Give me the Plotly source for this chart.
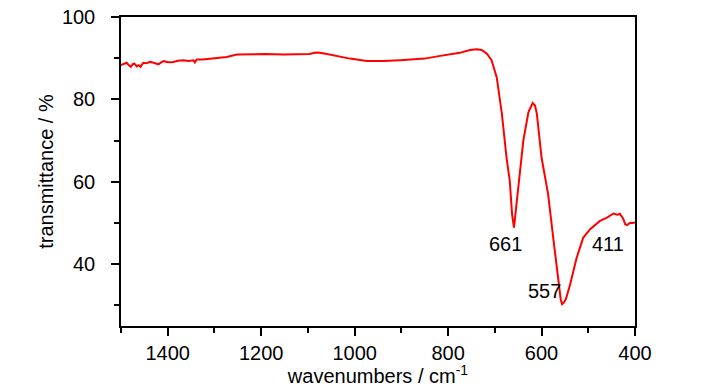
import plotly.graph_objects as go

wavenumber = [1500, 1492, 1488, 1483, 1479, 1475, 1472, 1469, 1466, 1462, 1458, 1455, 1452, 1445, 1438, 1430,
              1420, 1414, 1409, 1400, 1388, 1378, 1367, 1355, 1345, 1342, 1338, 1325, 1310, 1290, 1274, 1252,
              1224, 1190, 1153, 1120, 1096, 1086, 1078, 1062, 1046, 1010, 974, 939, 903, 880, 850, 820, 800,
              775, 753, 739, 728, 717, 707, 696, 685, 675, 668, 663, 659, 655, 650, 645, 639, 628, 622, 619,
              614, 610, 600, 593, 586, 575, 564, 559, 556, 553, 548, 539, 525, 511, 496, 485, 475, 460, 452,
              446, 438, 432, 425, 421, 417, 411, 405, 400]
transmittance = [88.3, 88.7, 88.9, 88.3, 87.9, 88.5, 88.7, 88.4, 88.0, 88.3, 87.9, 88.5, 88.9, 88.8, 89.1, 88.9,
                 88.5, 89.0, 89.3, 89.0, 89.1, 89.4, 89.5, 89.3, 89.5, 89.0, 89.7, 89.7, 89.9, 90.1, 90.3, 90.9,
                 91.0, 91.0, 90.9, 90.9, 91.0, 91.3, 91.4, 91.1, 90.7, 89.9, 89.3, 89.3, 89.5, 89.6, 89.9, 90.5, 90.8,
                 91.3, 92.0, 92.2, 92.0, 91.1, 89.5, 85.4, 76.6, 65.9, 60.2, 52.0, 48.9, 53.0, 58.6, 64.0, 70.0,
                 76.9, 78.6, 79.1, 78.5, 76.5, 65.9, 61.0, 57.0, 46.4, 35.0, 31.5, 30.3, 30.6, 31.5, 35.0, 41.5,
                 46.4, 48.5, 49.5, 50.5, 51.3, 51.8, 52.3, 52.0, 52.2, 51.0, 49.7, 49.5, 50.0, 50.0, 50.1]

peak_labels = ["661", "557", "411"]
peak_label_x = [678, 593, 457]
peak_label_y = [44.9, 33.5, 44.9]

FONT = "Liberation Sans, Arial"

fig = go.Figure()
fig.add_trace(go.Scatter(x=wavenumber, y=transmittance, mode="lines",
                         line=dict(color="#ff0000", width=2), showlegend=False))

for t, x, y in zip(peak_labels, peak_label_x, peak_label_y):
    fig.add_annotation(x=x, y=y, text=t, showarrow=False,
                       font=dict(family=FONT, size=20, color="black"))

axis_common = dict(showline=True, linecolor="black", linewidth=1.5, mirror=True,
                   showgrid=False, zeroline=False, ticks="outside", ticklen=8, tickwidth=1.5,
                   tickcolor="black", automargin=False, ticklabeloverflow="allow",
                   tickfont=dict(family=FONT, size=20, color="black"))

fig.update_xaxes(range=[1500, 400], tickvals=[1400, 1200, 1000, 800, 600, 400],
                 minor=dict(tickvals=[1500, 1300, 1100, 900, 700, 500], ticklen=5, tickwidth=1.5,
                            tickcolor="black", ticks="outside"),
                 title=dict(text="wavenumbers / cm<sup>-1</sup>", standoff=3,
                            font=dict(family=FONT, size=20, color="black")),
                 **axis_common)
fig.update_yaxes(range=[25, 100], tickvals=[40, 60, 80, 100],
                 minor=dict(tickvals=[30, 50, 70, 90], ticklen=5, tickwidth=1.5,
                            tickcolor="black", ticks="outside"),
                 ticklabelstandoff=12,
                 title=dict(text="transmittance / %", standoff=3,
                            font=dict(family=FONT, size=20, color="black")),
                 **axis_common)

fig.update_layout(width=713, height=379, margin=dict(l=113, r=86, t=9, b=61),
                  paper_bgcolor="white", plot_bgcolor="white")

fig.write_html("out.html")
